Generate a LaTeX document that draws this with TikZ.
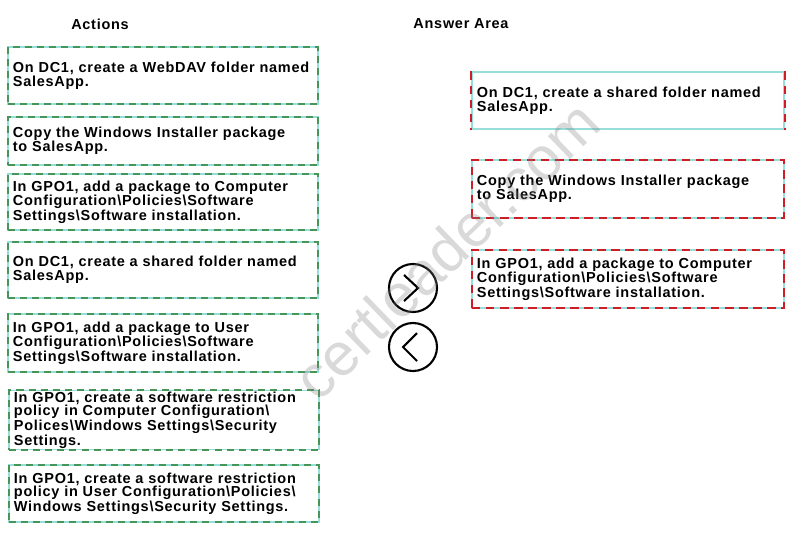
\documentclass[tikz,border=0pt]{standalone}
\usepackage{fontspec}
\usepackage{xcolor}
\usepackage{tikz}
\usetikzlibrary{positioning,calc}
\newfontfamily\boxfont{Liberation Sans}[LetterSpace=5]
\newfontfamily\markfont{Liberation Sans}
\newcommand{\bsl}{\textbackslash}
\definecolor{boxcyan}{RGB}{150,222,218}
\definecolor{dashgreen}{RGB}{70,150,90}
\definecolor{dashred}{RGB}{205,30,40}

\begin{document}
\begin{tikzpicture}[
    x=0.025cm, y=-0.025cm,
    every node/.style={font=\boxfont\bfseries\fontsize{10.3}{10.2}\selectfont},
    card/.style={draw=boxcyan, line width=0.8pt, text width=7.5cm, inner xsep=0.125cm, inner ysep=1pt, align=left},
    act/.style={card, postaction={draw=dashgreen, line width=1.3pt, dash pattern=on 5pt off 3.6pt}},
    ans/.style={card, text width=7.55cm},
    tight/.style={font=\boxfont\bfseries\fontsize{10.3}{9.4}\selectfont},
    redside/.style={draw=dashred, line width=1.3pt, dash pattern=on 6pt off 4pt},
    title/.style={font=\boxfont\bfseries\fontsize{10.3}{12}\selectfont},
    move/.style={circle, draw, line width=1.5pt, minimum size=1.2cm},
    chev/.style={line width=1.5pt},
]
\useasboundingbox (0,0) rectangle (802,541);

% === LEFT PANEL: Actions ===
\node[title] (acttitle) at (100, 24) {Actions};

\node[act, minimum height=57*0.025cm] (webdav) at (163, 75.5) {On DC1, create a WebDAV folder named\\SalesApp.};
\node[act, minimum height=48*0.025cm] (copy) at (163, 141) {Copy the Windows Installer package\\to SalesApp.};
\node[act, minimum height=56*0.025cm] (pkgcomp) at (163, 202) {In GPO1, add a package to Computer\\Configuration\bsl Policies\bsl Software\\Settings\bsl Software installation.};
\node[act, minimum height=56*0.025cm] (share) at (163, 270) {On DC1, create a shared folder named\\SalesApp.};
\node[act, minimum height=58*0.025cm] (pkguser) at (163, 343) {In GPO1, add a package to User\\Configuration\bsl Policies\bsl Software\\Settings\bsl Software installation.};
\node[act, tight, minimum height=56*0.025cm] (srpcomp) at (164, 420) {In GPO1, create a software restriction\\policy in Computer Configuration\bsl\\Polices\bsl Windows Settings\bsl Security\\Settings.};
\node[act, tight, minimum height=57*0.025cm] (srpuser) at (164, 493.5) {In GPO1, create a software restriction\\policy in User Configuration\bsl Policies\bsl\\Windows Settings\bsl Security Settings.};

% === MIDDLE: move buttons ===
\node[move] (addbtn) at (413, 288) {};
\node[move] (delbtn) at (413, 347) {};
\draw[chev] ($(addbtn.center)+(-9,-13)$) -- ($(addbtn.center)+(5,0)$) -- ($(addbtn.center)+(-9,13)$);
\draw[chev] ($(delbtn.center)+(4,-14)$) -- ($(delbtn.center)+(-10,0)$) -- ($(delbtn.center)+(4,14)$);

% === RIGHT PANEL: Answer Area ===
\node[title] (anstitle) at (461, 24) {Answer Area};

\node[ans, minimum height=57*0.025cm] (ans1) at (628, 100.5) {On DC1, create a shared folder named\\SalesApp.};
\node[ans, minimum height=58*0.025cm, postaction={redside}] (ans2) at (628, 189) {Copy the Windows Installer package\\to SalesApp.};
\node[ans, minimum height=58*0.025cm, postaction={redside}] (ans3) at (628, 279) {In GPO1, add a package to Computer\\Configuration\bsl Policies\bsl Software\\Settings\bsl Software installation.};

% red marks on the sides of the first answer
\draw[redside] (ans1.north west) -- (ans1.south west);
\draw[redside] (ans1.north east) -- (ans1.south east);

% Watermark
\node[font=\markfont\fontsize{43}{43}\selectfont, text=gray, opacity=0.3, rotate=44] (mark) at (446, 250) {certleader.com};

\end{tikzpicture}
\end{document}
